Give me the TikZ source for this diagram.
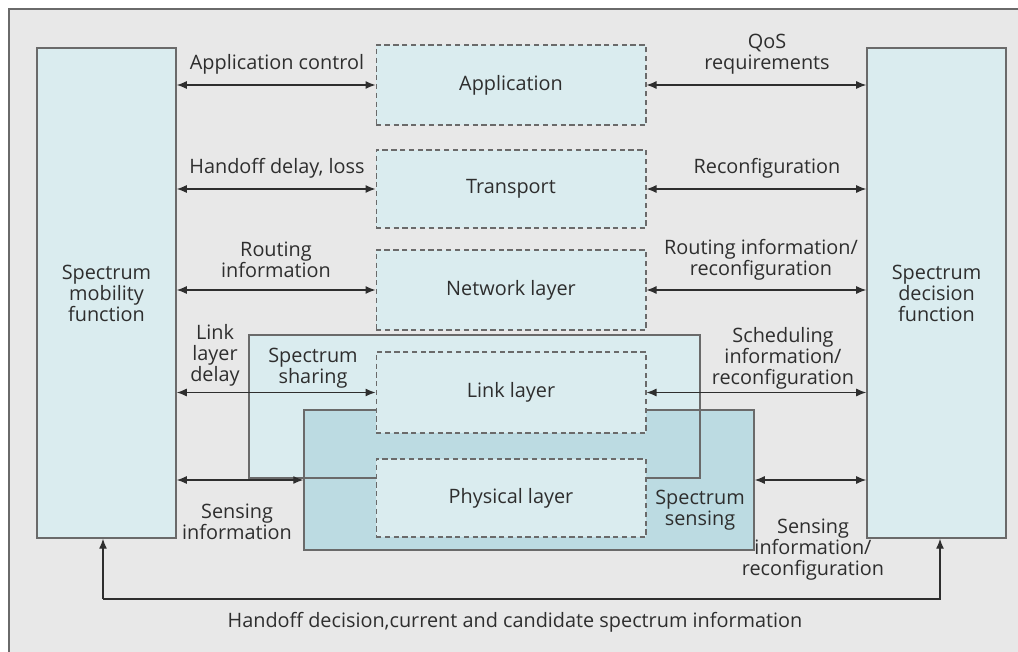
\documentclass[tikz,border=0pt]{standalone}
\usepackage{fontspec}
\setmainfont{Open Sans}
\usetikzlibrary{arrows.meta}

\definecolor{bgcol}{HTML}{E8E8E8}
\definecolor{boxcol}{HTML}{DAECEF}
\definecolor{sensecol}{HTML}{BCDBE2}
\definecolor{linecol}{HTML}{6A6A6A}
\definecolor{txtcol}{HTML}{2E2E2E}

\tikzset{
  funcbox/.style = {draw=linecol, line width=0.9pt, fill=boxcol, minimum width=2.78cm, minimum height=9.8cm, align=center, text=txtcol, inner sep=0pt},
  layerbox/.style = {draw=linecol, densely dashed, line width=0.6pt, fill=boxcol, minimum width=5.4cm, minimum height=1.6cm, text=txtcol},
  zone/.style = {line width=0.9pt, minimum width=9cm, minimum height=2.8cm, inner sep=0pt},
  lbl/.style = {align=center, text=txtcol, inner sep=0pt},
  biarrow/.style = {{Latex[length=2mm,width=1.6mm]}-{Latex[length=2mm,width=1.6mm]}, draw=txtcol, line width=0.7pt},
  uparrow/.style = {-{Latex[length=2mm,width=1.6mm]}, draw=txtcol, line width=0.7pt}
}

\begin{document}
\begin{tikzpicture}[x=0.02cm, y=-0.02cm, font=\fontsize{11.3}{11.9}\selectfont]
  \useasboundingbox (0,0) rectangle (1018,652);
  \fill[bgcol] (9,9) rectangle (1018,652);
  \draw[linecol, line width=1pt] (9,652) -- (9,9) -- (1018,9);

  % function blocks
  \node (mob) [funcbox] at (106.5,293) {Spectrum\\mobility\\function};
  \node (dec) [funcbox] at (936.5,293) {Spectrum\\decision\\function};

  % sharing and sensing areas
  \node (share) [zone, fill=boxcol, minimum width=8.98cm, minimum height=2.82cm] at (474.5,406.5) {};
  \node (sense) [zone, draw=linecol, fill=sensecol] at (529,480) {};
  \draw[linecol, line width=0.9pt] (share.south west) rectangle (share.north east);

  % protocol layers
  \node (app) [layerbox] at (511,85) {Application};
  \node (trans) [layerbox, minimum height=1.56cm] at (511,189) {Transport};
  \node (net) [layerbox] at (511,290) {Network layer};
  \node (link) [layerbox, minimum height=1.62cm] at (511,392.5) {Link layer};
  \node (phy) [layerbox, minimum height=1.56cm] at (511,498) {Physical layer};

  % labels
  \node (l1) [lbl] at (277,64) {Application control};
  \node (r1) [lbl] at (767,54) {QoS\\requirements};
  \node (l2) [lbl] at (277,168) {Handoff delay, loss};
  \node (r2) [lbl] at (767,168) {Reconfiguration};
  \node (l3) [lbl] at (276,260) {Routing\\information};
  \node (r3) [lbl] at (761,260) {Routing information/\\reconfiguration};
  \node (l4) [lbl] at (215,355) {Link\\layer\\delay};
  \node (s4) [lbl] at (313,368) {Spectrum\\sharing};
  \node (r4) [lbl] at (783,358) {Scheduling\\information/\\reconfiguration};
  \node (l5) [lbl] at (237,522) {Sensing\\information};
  \node (s5) [lbl] at (700,510) {Spectrum\\sensing};
  \node (r5) [lbl] at (813,550) {Sensing\\information/\\reconfiguration};
  \node (bt) [lbl] at (515,622) {Handoff decision,current and candidate spectrum information};

  % connectors
  \draw[biarrow] (app.west -| mob.east) -- (app.west);
  \draw[biarrow] (app.east) -- (app.east -| dec.west);
  \draw[biarrow] (trans.west -| mob.east) -- (trans.west);
  \draw[biarrow] (trans.east) -- (trans.east -| dec.west);
  \draw[biarrow] (net.west -| mob.east) -- (net.west);
  \draw[biarrow] (net.east) -- (net.east -| dec.west);
  \draw[biarrow] (link.west -| mob.east) -- (link.west);
  \draw[biarrow] (link.east) -- (link.east -| dec.west);
  \draw[biarrow] (sense.west -| mob.east) -- (sense.west);
  \draw[biarrow] (sense.east) -- (sense.east -| dec.west);

  \coordinate (bl) at (103,599);
  \coordinate (br) at (940,599);
  \draw[uparrow] (bl) -- (bl |- mob.south);
  \draw[uparrow] (bl) -- (br) -- (br |- dec.south);
\end{tikzpicture}
\end{document}
